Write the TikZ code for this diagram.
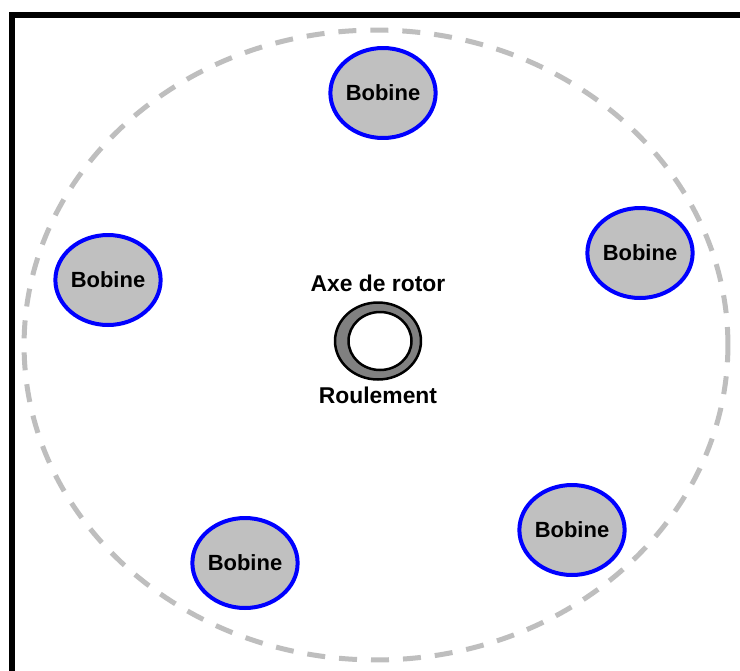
\documentclass[tikz,border=0pt]{standalone}
\usepackage{fontspec}
\setmainfont{Liberation Sans}
\usepackage{tikz}
\usetikzlibrary{shapes.geometric}
\definecolor{bobinegray}{RGB}{192,192,192}
\definecolor{dashgray}{RGB}{190,190,190}
\definecolor{bobineblue}{RGB}{0,0,255}
\definecolor{ringgray}{RGB}{128,128,128}
\tikzset{
  bobine/.style   = {ellipse,draw=bobineblue,fill=bobinegray,line width=0.08cm,
                     minimum width=2.1cm,minimum height=1.8cm,inner sep=0pt,
                     font=\fontsize{12.5}{14}\selectfont\bfseries},
  labeltxt/.style = {font=\fontsize{13}{15}\selectfont\bfseries,inner sep=0pt},
  orbit/.style    = {dashgray,line width=0.1cm,dash pattern=on 0.36cm off 0.28cm},
  frameline/.style= {line width=0.12cm,black}
}
\begin{document}
\begin{tikzpicture}[x=0.02cm,y=-0.02cm]
  \useasboundingbox (0,0) rectangle (740,670);
  \clip (0,0) rectangle (740,670);
  \fill[white] (0,0) rectangle (740,670);
  % cadre
  \draw[frameline] (12,700) -- (12,15) -- (760,15);
  % trajectoire des bobines
  \draw[orbit] (376,345) ellipse [x radius=7.04cm, y radius=6.3cm];
  % bobines
  \node[bobine] (bob1) at (383,93)  {Bobine};
  \node[bobine] (bob2) at (108,280) {Bobine};
  \node[bobine] (bob3) at (640,253) {Bobine};
  \node[bobine] (bob4) at (572,530) {Bobine};
  \node[bobine] (bob5) at (245,563) {Bobine};
  % roulement
  \node[ellipse,draw,line width=0.05cm,fill=ringgray,minimum width=1.72cm,
        minimum height=1.54cm,inner sep=0pt] (roul) at (378,341) {};
  \node[ellipse,draw,line width=0.05cm,fill=white,minimum width=1.26cm,
        minimum height=1.16cm,inner sep=0pt] (axe) at (380,341) {};
  \node[labeltxt] (axetxt)  at (378,283) {Axe de rotor};
  \node[labeltxt] (roultxt) at (378,395) {Roulement};
\end{tikzpicture}
\end{document}
